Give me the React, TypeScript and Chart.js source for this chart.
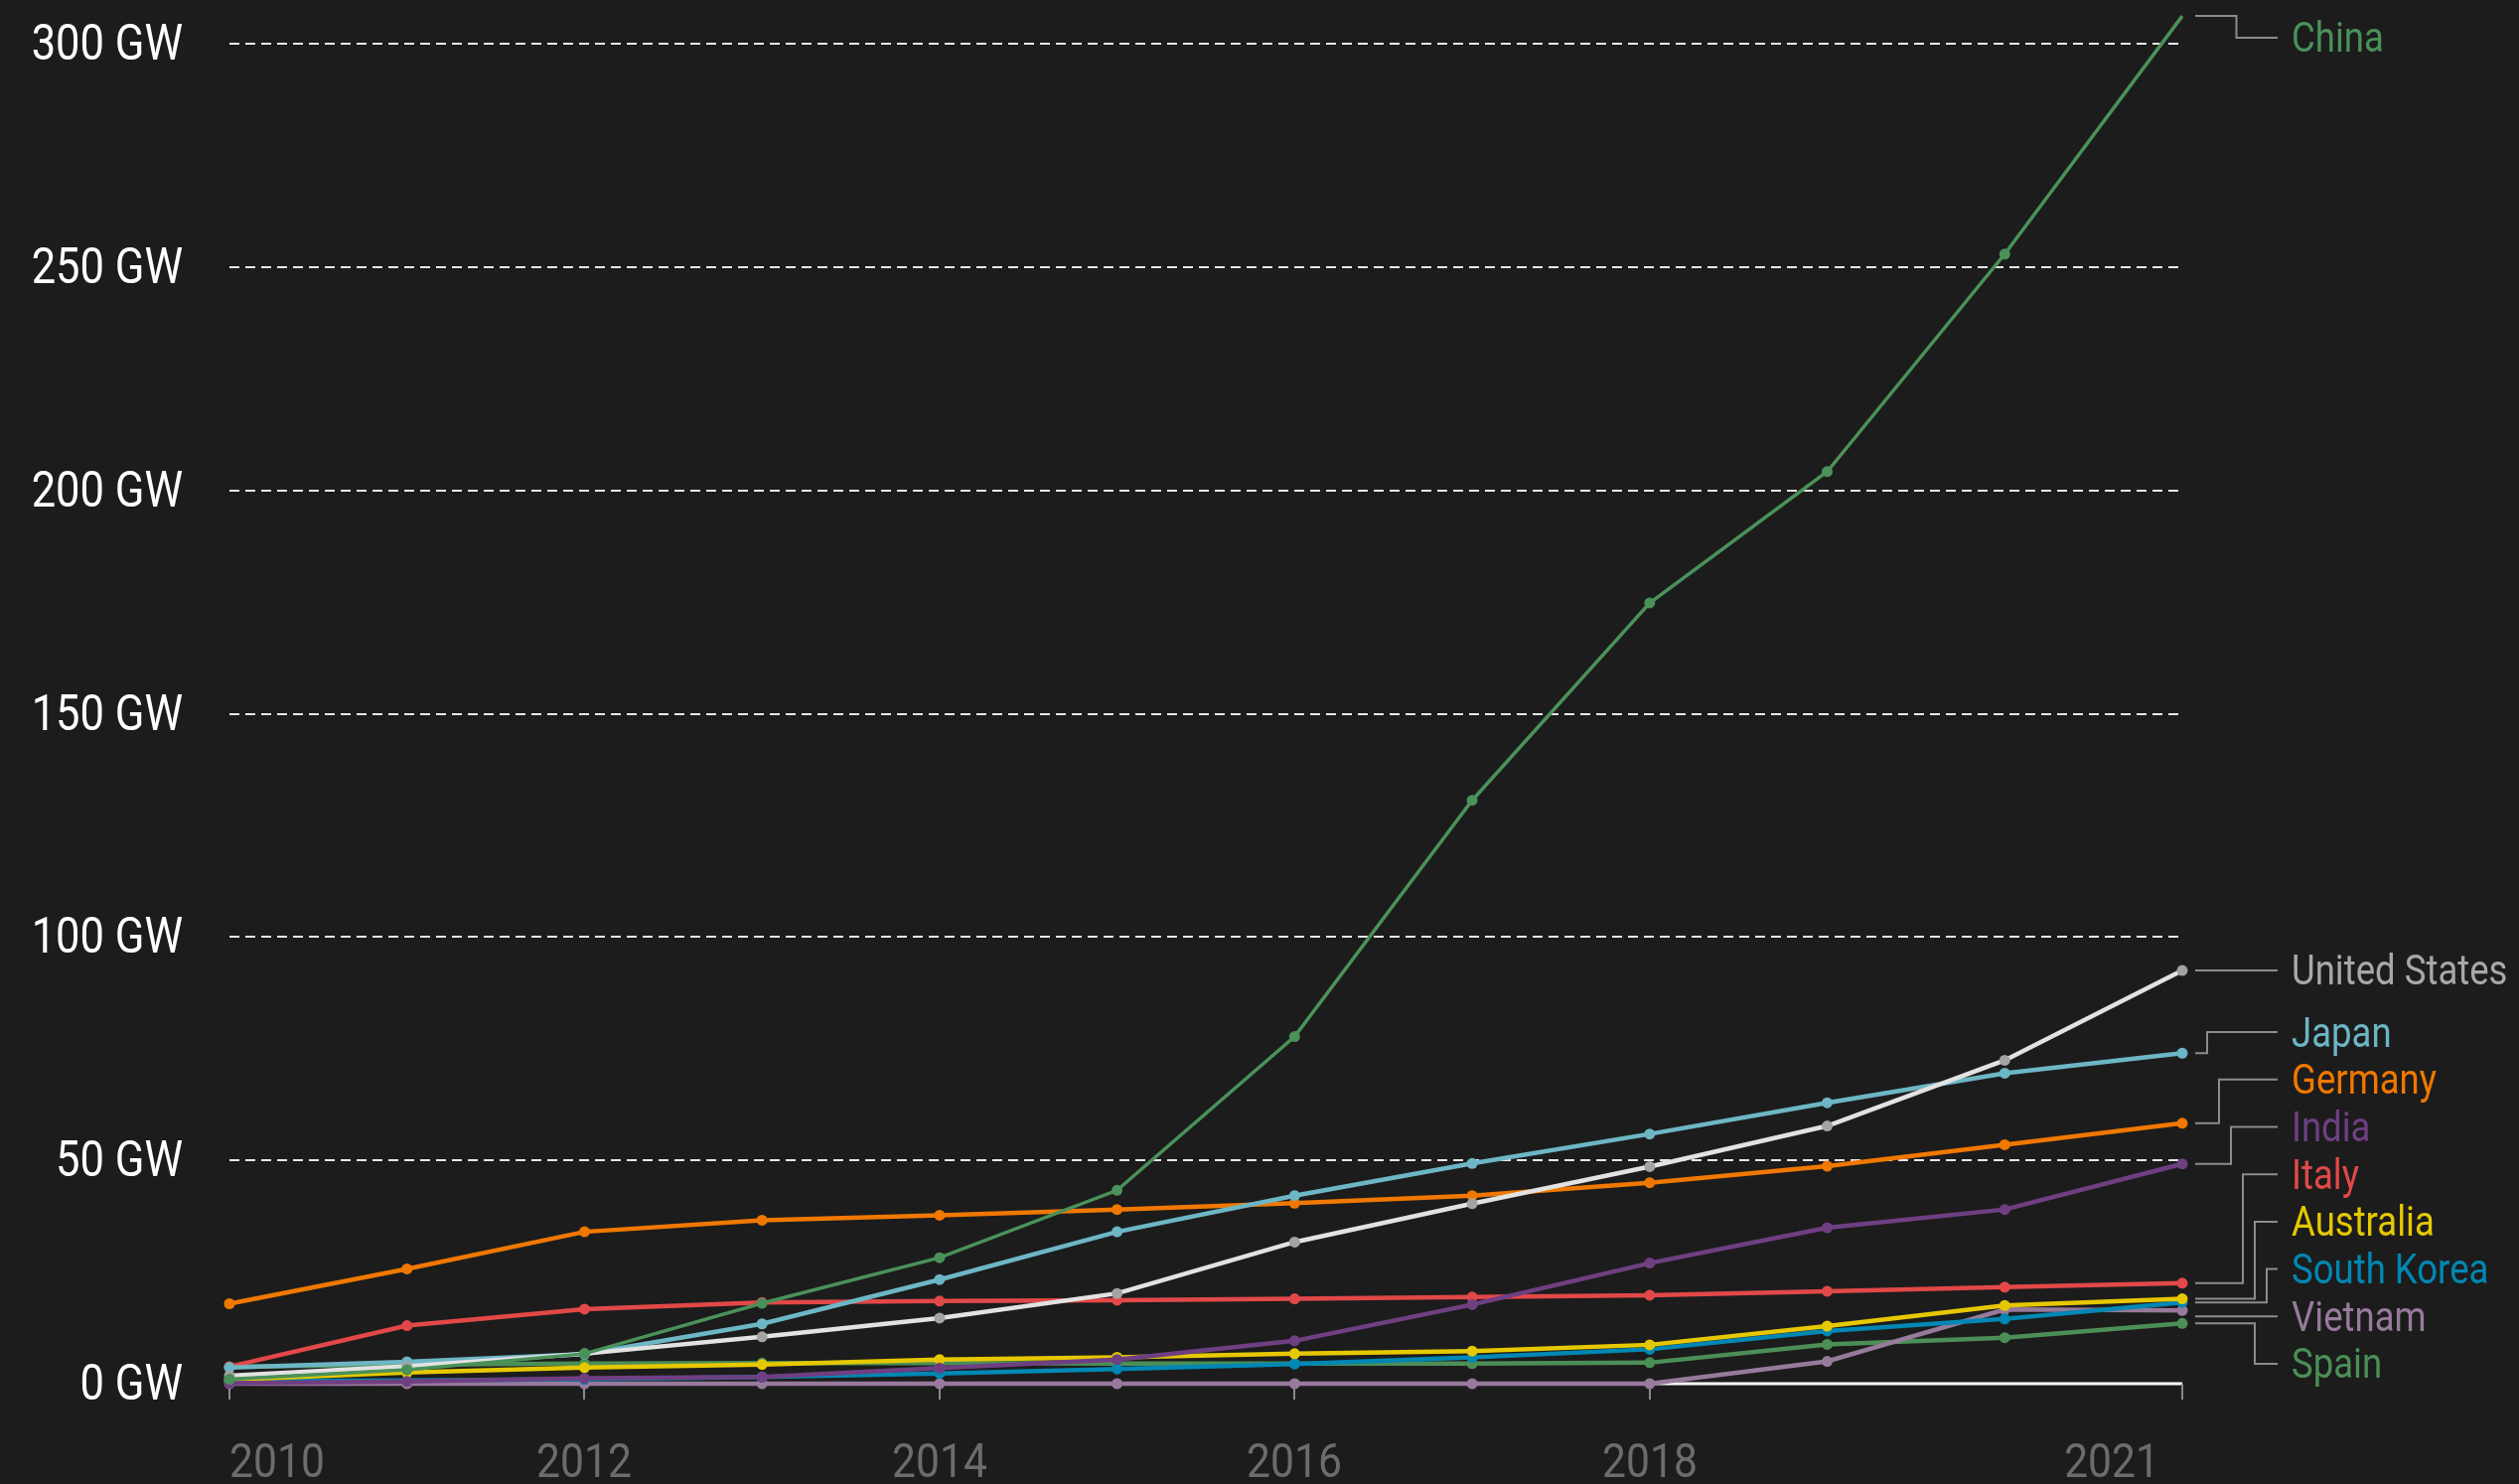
import React, { useEffect, useRef } from "react";
import { Chart, registerables } from "chart.js";

Chart.register(...registerables);

const W = 2536;
const H = 1494;
const BG = "#1c1c1c";

const YEARS = [2010, 2011, 2012, 2013, 2014, 2015, 2016, 2017, 2018, 2019, 2020, 2021];
const X_TICKS = [2010, 2012, 2014, 2016, 2018, 2021];
const X_TICK_LABELS = ["2010", "2012", "2014", "2016", "2018", "2021"];
const Y_TICKS = [0, 50, 100, 150, 200, 250, 300];
const Y_TICK_LABELS = ["0 GW", "50 GW", "100 GW", "150 GW", "200 GW", "250 GW", "300 GW"];

const SERIES_NAMES = ["China", "United States", "Japan", "Germany", "India", "Italy", "Australia", "South Korea", "Vietnam", "Spain"];

const CHINA = [1.0, 3.1, 6.7, 18.0, 28.2, 43.3, 77.7, 130.6, 174.8, 204.2, 252.9, 306.2];
const UNITED_STATES = [1.8, 3.9, 6.7, 10.5, 14.7, 20.2, 31.7, 40.3, 48.6, 57.7, 72.4, 92.5];
const JAPAN = [3.6, 4.9, 6.6, 13.4, 23.3, 34.0, 42.1, 49.3, 55.9, 62.9, 69.5, 74.0];
const GERMANY = [17.9, 25.7, 34.0, 36.6, 37.7, 39.0, 40.4, 42.1, 45.0, 48.7, 53.5, 58.3];
const INDIA = [0.1, 0.5, 1.2, 1.5, 3.5, 5.4, 9.6, 17.7, 27.0, 34.9, 39.0, 49.2];
const ITALY = [3.8, 13.0, 16.7, 18.2, 18.5, 18.7, 19.0, 19.4, 19.8, 20.7, 21.6, 22.5];
const AUSTRALIA = [0.9, 2.5, 3.6, 4.3, 5.4, 5.9, 6.7, 7.3, 8.7, 12.9, 17.5, 19.0];
const SOUTH_KOREA = [0.6, 0.7, 1.0, 1.5, 2.3, 3.3, 4.4, 5.9, 7.7, 11.8, 14.5, 18.2];
const VIETNAM = [0, 0, 0, 0, 0, 0, 0, 0, 0, 5.0, 16.6, 16.4];
const SPAIN = [3.8, 4.3, 4.5, 4.6, 4.6, 4.5, 4.5, 4.5, 4.7, 8.8, 10.3, 13.5];

const SERIES_VALUES = [CHINA, UNITED_STATES, JAPAN, GERMANY, INDIA, ITALY, AUSTRALIA, SOUTH_KOREA, VIETNAM, SPAIN];

const LINE_COLORS = ["#4a915a", "#e2e2e2", "#6db6c5", "#f07800", "#6f3f82", "#e24848", "#e6c800", "#0087b3", "#977a9c", "#4b8f57"];
const POINT_COLORS = ["#4a915a", "#a3a3a3", "#6db6c5", "#f07800", "#6f3f82", "#e24848", "#e6c800", "#0087b3", "#977a9c", "#4b8f57"];
const LABEL_COLORS = ["#4a915a", "#a8a8a8", "#6db6c5", "#f07800", "#6f3f82", "#e24848", "#e6c800", "#0087b3", "#977a9c", "#4b8f57"];

const FONT = "Roboto, 'Noto Sans', sans-serif";
const SQUEEZE = 0.87;

function drawText(ctx: CanvasRenderingContext2D, text: string, x: number, y: number, align: CanvasTextAlign, size: number, color: string) {
  ctx.save();
  ctx.font = `${size}px ${FONT}`;
  ctx.fillStyle = color;
  ctx.textBaseline = "alphabetic";
  ctx.textAlign = align;
  ctx.translate(x, y + 0.355 * size - 0.5);
  ctx.scale(SQUEEZE, 1);
  ctx.fillText(text, 0, 0);
  ctx.restore();
}

const decorPlugin = {
  id: "decor",
  beforeDatasetsDraw(chart: any) {
    const { ctx, chartArea, scales } = chart;
    const xs = scales.x;
    const ys = scales.y;
    ctx.save();
    Y_TICKS.forEach((v, i) => {
      const y = Math.round(ys.getPixelForValue(v));
      ctx.beginPath();
      if (v === 0) {
        ctx.setLineDash([]);
        ctx.strokeStyle = "#ffffff";
        ctx.lineWidth = 3;
      } else {
        ctx.setLineDash([10, 6]);
        ctx.strokeStyle = "#e8e8e8";
        ctx.lineWidth = 2;
      }
      ctx.moveTo(chartArea.left, y);
      ctx.lineTo(chartArea.right, y);
      ctx.stroke();
      drawText(ctx, Y_TICK_LABELS[i], 184, y - 1, "right", 50, "#ffffff");
    });
    ctx.setLineDash([]);
    const y0 = ys.getPixelForValue(0);
    X_TICKS.forEach((t, i) => {
      const x = Math.round(xs.getPixelForValue(t));
      ctx.beginPath();
      ctx.strokeStyle = "#8a8a8a";
      ctx.lineWidth = 2;
      ctx.moveTo(x, y0);
      ctx.lineTo(x, y0 + 16);
      ctx.stroke();
      let align: CanvasTextAlign = "center";
      let lx = x;
      if (i === 0) align = "left";
      if (i === X_TICKS.length - 1) {
        align = "right";
        lx = x - 23;
      }
      drawText(ctx, X_TICK_LABELS[i], lx, y0 + 77, align, 49, "#6c6c6c");
    });
    ctx.restore();
  },
  afterDatasetsDraw(chart: any) {
    const { ctx, chartArea, scales } = chart;
    const xs = scales.x;
    const ys = scales.y;
    const last = YEARS.length - 1;
    const px = xs.getPixelForValue(YEARS[last]);
    const spacing = 47.7;
    const topBound = chartArea.top - 6;
    const botBound = chartArea.bottom - 20;
    const items = SERIES_NAMES.map((name, i) => ({
      i,
      name,
      py: ys.getPixelForValue(SERIES_VALUES[i][last]),
    })).sort((a, b) => a.py - b.py);
    const clusters: { members: any[]; start: number }[] = items.map((it) => ({ members: [it], start: it.py }));
    const place = (c: { members: any[]; start: number }) => {
      const mean = c.members.reduce((s, m) => s + m.py, 0) / c.members.length;
      let start = mean - ((c.members.length - 1) * spacing) / 2;
      const end = start + (c.members.length - 1) * spacing;
      if (end > botBound) start -= end - botBound;
      if (start < topBound) start = topBound;
      c.start = start;
    };
    clusters.forEach(place);
    let merged = true;
    while (merged) {
      merged = false;
      for (let k = 0; k < clusters.length - 1; k++) {
        const a = clusters[k];
        const b = clusters[k + 1];
        const aEnd = a.start + (a.members.length - 1) * spacing;
        if (b.start - aEnd < spacing - 0.01) {
          const c = { members: a.members.concat(b.members), start: 0 };
          place(c);
          clusters.splice(k, 2, c);
          merged = true;
          break;
        }
      }
    }
    const x0 = px + 13;
    const x1 = px + 96;
    const tx = px + 110;
    ctx.save();
    ctx.strokeStyle = "#8c8c8c";
    ctx.lineWidth = 2;
    clusters.forEach((c) => {
      const n = c.members.length;
      const labY = c.members.map((_, j) => c.start + j * spacing);
      const ups = c.members.filter((m, j) => labY[j] < m.py - 1).length;
      c.members.forEach((m, j) => {
        const ly = labY[j];
        ctx.beginPath();
        if (Math.abs(ly - m.py) < 8) {
          ctx.moveTo(x0, ly);
          ctx.lineTo(x1, ly);
        } else {
          let ex: number;
          if (n === 1) ex = (x0 + x1) / 2;
          else if (ly < m.py) ex = x0 + 12 * (j + 1);
          else ex = x0 + 12 * (2 * ups - j);
          ex = Math.max(x0 + 10, Math.min(x1 - 10, ex));
          ctx.moveTo(x0, m.py);
          ctx.lineTo(ex, m.py);
          ctx.lineTo(ex, ly);
          ctx.lineTo(x1, ly);
        }
        ctx.stroke();
        drawText(ctx, m.name, tx, ly, "left", 42, LABEL_COLORS[m.i]);
      });
    });
    ctx.restore();
  },
};

export default function App() {
  const ref = useRef<HTMLCanvasElement | null>(null);
  useEffect(() => {
    if (!ref.current) return;
    const datasets = SERIES_NAMES.map((name, i) => ({
      label: name,
      data: YEARS.map((yr, k) => ({ x: yr, y: SERIES_VALUES[i][k] })),
      borderColor: LINE_COLORS[i],
      backgroundColor: POINT_COLORS[i],
      pointBackgroundColor: POINT_COLORS[i],
      pointBorderColor: POINT_COLORS[i],
      pointRadius: 5.5,
      pointBorderWidth: 0,
      borderWidth: i === 0 ? 3.5 : 4.5,
      tension: 0,
      clip: false as any,
      fill: false,
    }));
    const chart = new Chart(ref.current, {
      type: "line",
      data: { datasets },
      options: {
        responsive: false,
        animation: false,
        devicePixelRatio: 1,
        layout: { padding: { left: 231, right: W - 2197, top: 44, bottom: H - 1393 } },
        plugins: { legend: { display: false }, tooltip: { enabled: false } },
        scales: {
          x: { type: "linear", min: 2010, max: 2021, display: false },
          y: { type: "linear", min: 0, max: 300, display: false },
        },
      },
      plugins: [decorPlugin],
    });
    return () => chart.destroy();
  }, []);
  return (
    <div style={{ position: "fixed", left: 0, top: 0, width: W, height: H, background: BG }}>
      <canvas ref={ref} width={W} height={H} style={{ display: "block", width: W, height: H }} />
    </div>
  );
}
